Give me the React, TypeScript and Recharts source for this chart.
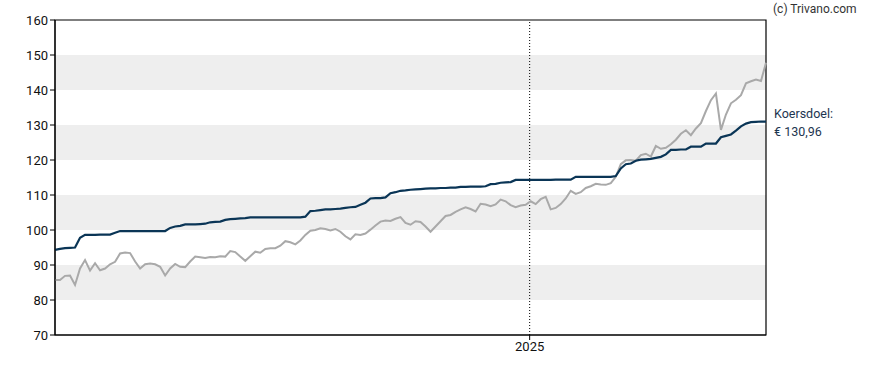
import {
  LineChart, Line, XAxis, YAxis, ReferenceArea, ReferenceLine,
} from 'recharts'

// koers (grijs) en koersdoel (blauw), ongeveer wekelijkse punten
const koers = [
  85.7, 85.7, 86.9, 87.0, 84.3, 89.0, 91.4, 88.4, 90.5, 88.5,
  89.0, 90.2, 90.9, 93.3, 93.6, 93.4, 91.0, 89.0, 90.2, 90.4,
  90.2, 89.5, 87.0, 89.0, 90.3, 89.5, 89.4, 91.0, 92.4, 92.2,
  92.0, 92.3, 92.2, 92.5, 92.4, 94.0, 93.7, 92.4, 91.2, 92.5,
  93.8, 93.5, 94.6, 94.8, 94.8, 95.5, 96.8, 96.5, 95.9, 97.0,
  98.6, 99.8, 100.0, 100.5, 100.3, 99.9, 100.3, 99.5, 98.2, 97.3,
  98.8, 98.6, 99.0, 100.1, 101.3, 102.4, 102.7, 102.6, 103.2, 103.7,
  102.0, 101.5, 102.5, 102.3, 101.0, 99.5, 101.0, 102.5, 104.0, 104.3,
  105.2, 105.9, 106.5, 106.0, 105.3, 107.5, 107.3, 106.8, 107.3, 108.7,
  108.2, 107.1, 106.5, 107.0, 107.2, 108.2, 107.4, 108.8, 109.5, 105.9,
  106.3, 107.4, 109.0, 111.2, 110.3, 110.8, 112.0, 112.5, 113.2, 113.0,
  112.9, 113.4, 115.2, 118.8, 119.9, 120.0, 119.8, 121.4, 121.8, 121.0,
  124.0, 123.2, 123.5, 124.5, 125.8, 127.5, 128.5, 127.1, 129.0, 130.5,
  134.0, 137.1, 139.0, 128.6, 133.0, 136.2, 137.2, 138.5, 141.9, 142.5,
  143.0, 142.6, 147.8,
]

const koersdoel = [
  94.3, 94.6, 94.8, 94.9, 95.0, 97.8, 98.6, 98.6, 98.6, 98.7,
  98.7, 98.7, 99.2, 99.7, 99.7, 99.7, 99.7, 99.7, 99.7, 99.7,
  99.7, 99.7, 99.7, 100.6, 101.0, 101.2, 101.6, 101.6, 101.6, 101.7,
  101.8, 102.2, 102.3, 102.4, 102.9, 103.1, 103.2, 103.3, 103.4, 103.6,
  103.6, 103.6, 103.6, 103.6, 103.6, 103.6, 103.6, 103.6, 103.6, 103.6,
  103.8, 105.4, 105.5, 105.7, 105.9, 105.9, 106.0, 106.1, 106.3, 106.5,
  106.6, 107.2, 107.8, 109.0, 109.1, 109.1, 109.3, 110.5, 110.8, 111.2,
  111.3, 111.5, 111.6, 111.7, 111.8, 111.9, 111.9, 112.0, 112.0, 112.1,
  112.1, 112.3, 112.3, 112.4, 112.4, 112.4, 112.5, 113.1, 113.2, 113.5,
  113.6, 113.7, 114.3, 114.3, 114.3, 114.3, 114.3, 114.3, 114.3, 114.3,
  114.4, 114.4, 114.4, 114.4, 115.2, 115.2, 115.2, 115.2, 115.2, 115.2,
  115.2, 115.2, 115.4, 117.6, 118.8, 119.0, 119.8, 120.1, 120.2, 120.3,
  120.6, 120.9, 121.6, 122.9, 122.9, 123.0, 123.0, 123.8, 123.8, 123.8,
  124.7, 124.7, 124.7, 126.5, 126.9, 127.3, 128.4, 129.6, 130.4, 130.8,
  130.9, 131.0, 130.96,
]

const yearStart = 94.8 // index van 1 jan 2025
const yearLabel = '2025'
const yTicks = [70, 80, 90, 100, 110, 120, 130, 140, 150, 160]
const bands = [[80, 90], [100, 110], [120, 130], [140, 150]]

const data = koers.map((k, i) => ({ i, koers: k, doel: koersdoel[i] }))
const last = koersdoel.length - 1

const font = 'Roboto, "Noto Sans", sans-serif'

export default function App() {
  return (
    <div style={{ position: 'absolute', left: 0, top: 0, width: 888, height: 370, fontFamily: font, background: '#fff' }}>
      <LineChart
        width={888}
        height={370}
        data={data}
        margin={{ top: 20, right: 122, bottom: 0, left: 0 }}
      >
        {bands.map(([a, b]) => (
          <ReferenceArea key={a} y1={a} y2={b} fill="#eeeeee" fillOpacity={1} stroke="none" ifOverflow="hidden" />
        ))}
        <XAxis
          dataKey="i"
          type="number"
          domain={[0, last]}
          ticks={[yearStart]}
          tickFormatter={() => yearLabel}
          stroke="#000"
          tickSize={5}
          height={35}
          tick={{ fontSize: 13, fill: '#111', fontFamily: font }}
        />
        <YAxis
          domain={[70, 160]}
          ticks={yTicks}
          interval={0}
          width={55}
          stroke="#000"
          tickSize={5}
          tick={{ fontSize: 13, fill: '#111', fontFamily: font }}
        />
        <ReferenceLine x={yearStart} stroke="#000" strokeDasharray="1 2" />
        <Line
          type="linear"
          dataKey="koers"
          stroke="#a9a9a9"
          strokeWidth={2}
          dot={false}
          isAnimationActive={false}
        />
        <Line
          type="linear"
          dataKey="doel"
          stroke="#0a3556"
          strokeWidth={2.2}
          dot={false}
          isAnimationActive={false}
        />
        <ReferenceArea x1={0} x2={last} y1={70} y2={160} fill="none" stroke="#000" strokeWidth={1.2} />
      </LineChart>
      <div style={{ position: 'absolute', left: 773, top: 2, fontSize: 12, color: '#333' }}>(c) Trivano.com</div>
      <div style={{ position: 'absolute', left: 774, top: 105, fontSize: 12.5, lineHeight: '18px', color: '#1d3550' }}>
        Koersdoel:<br />€ {koersdoel[last].toFixed(2).replace('.', ',')}
      </div>
    </div>
  )
}
